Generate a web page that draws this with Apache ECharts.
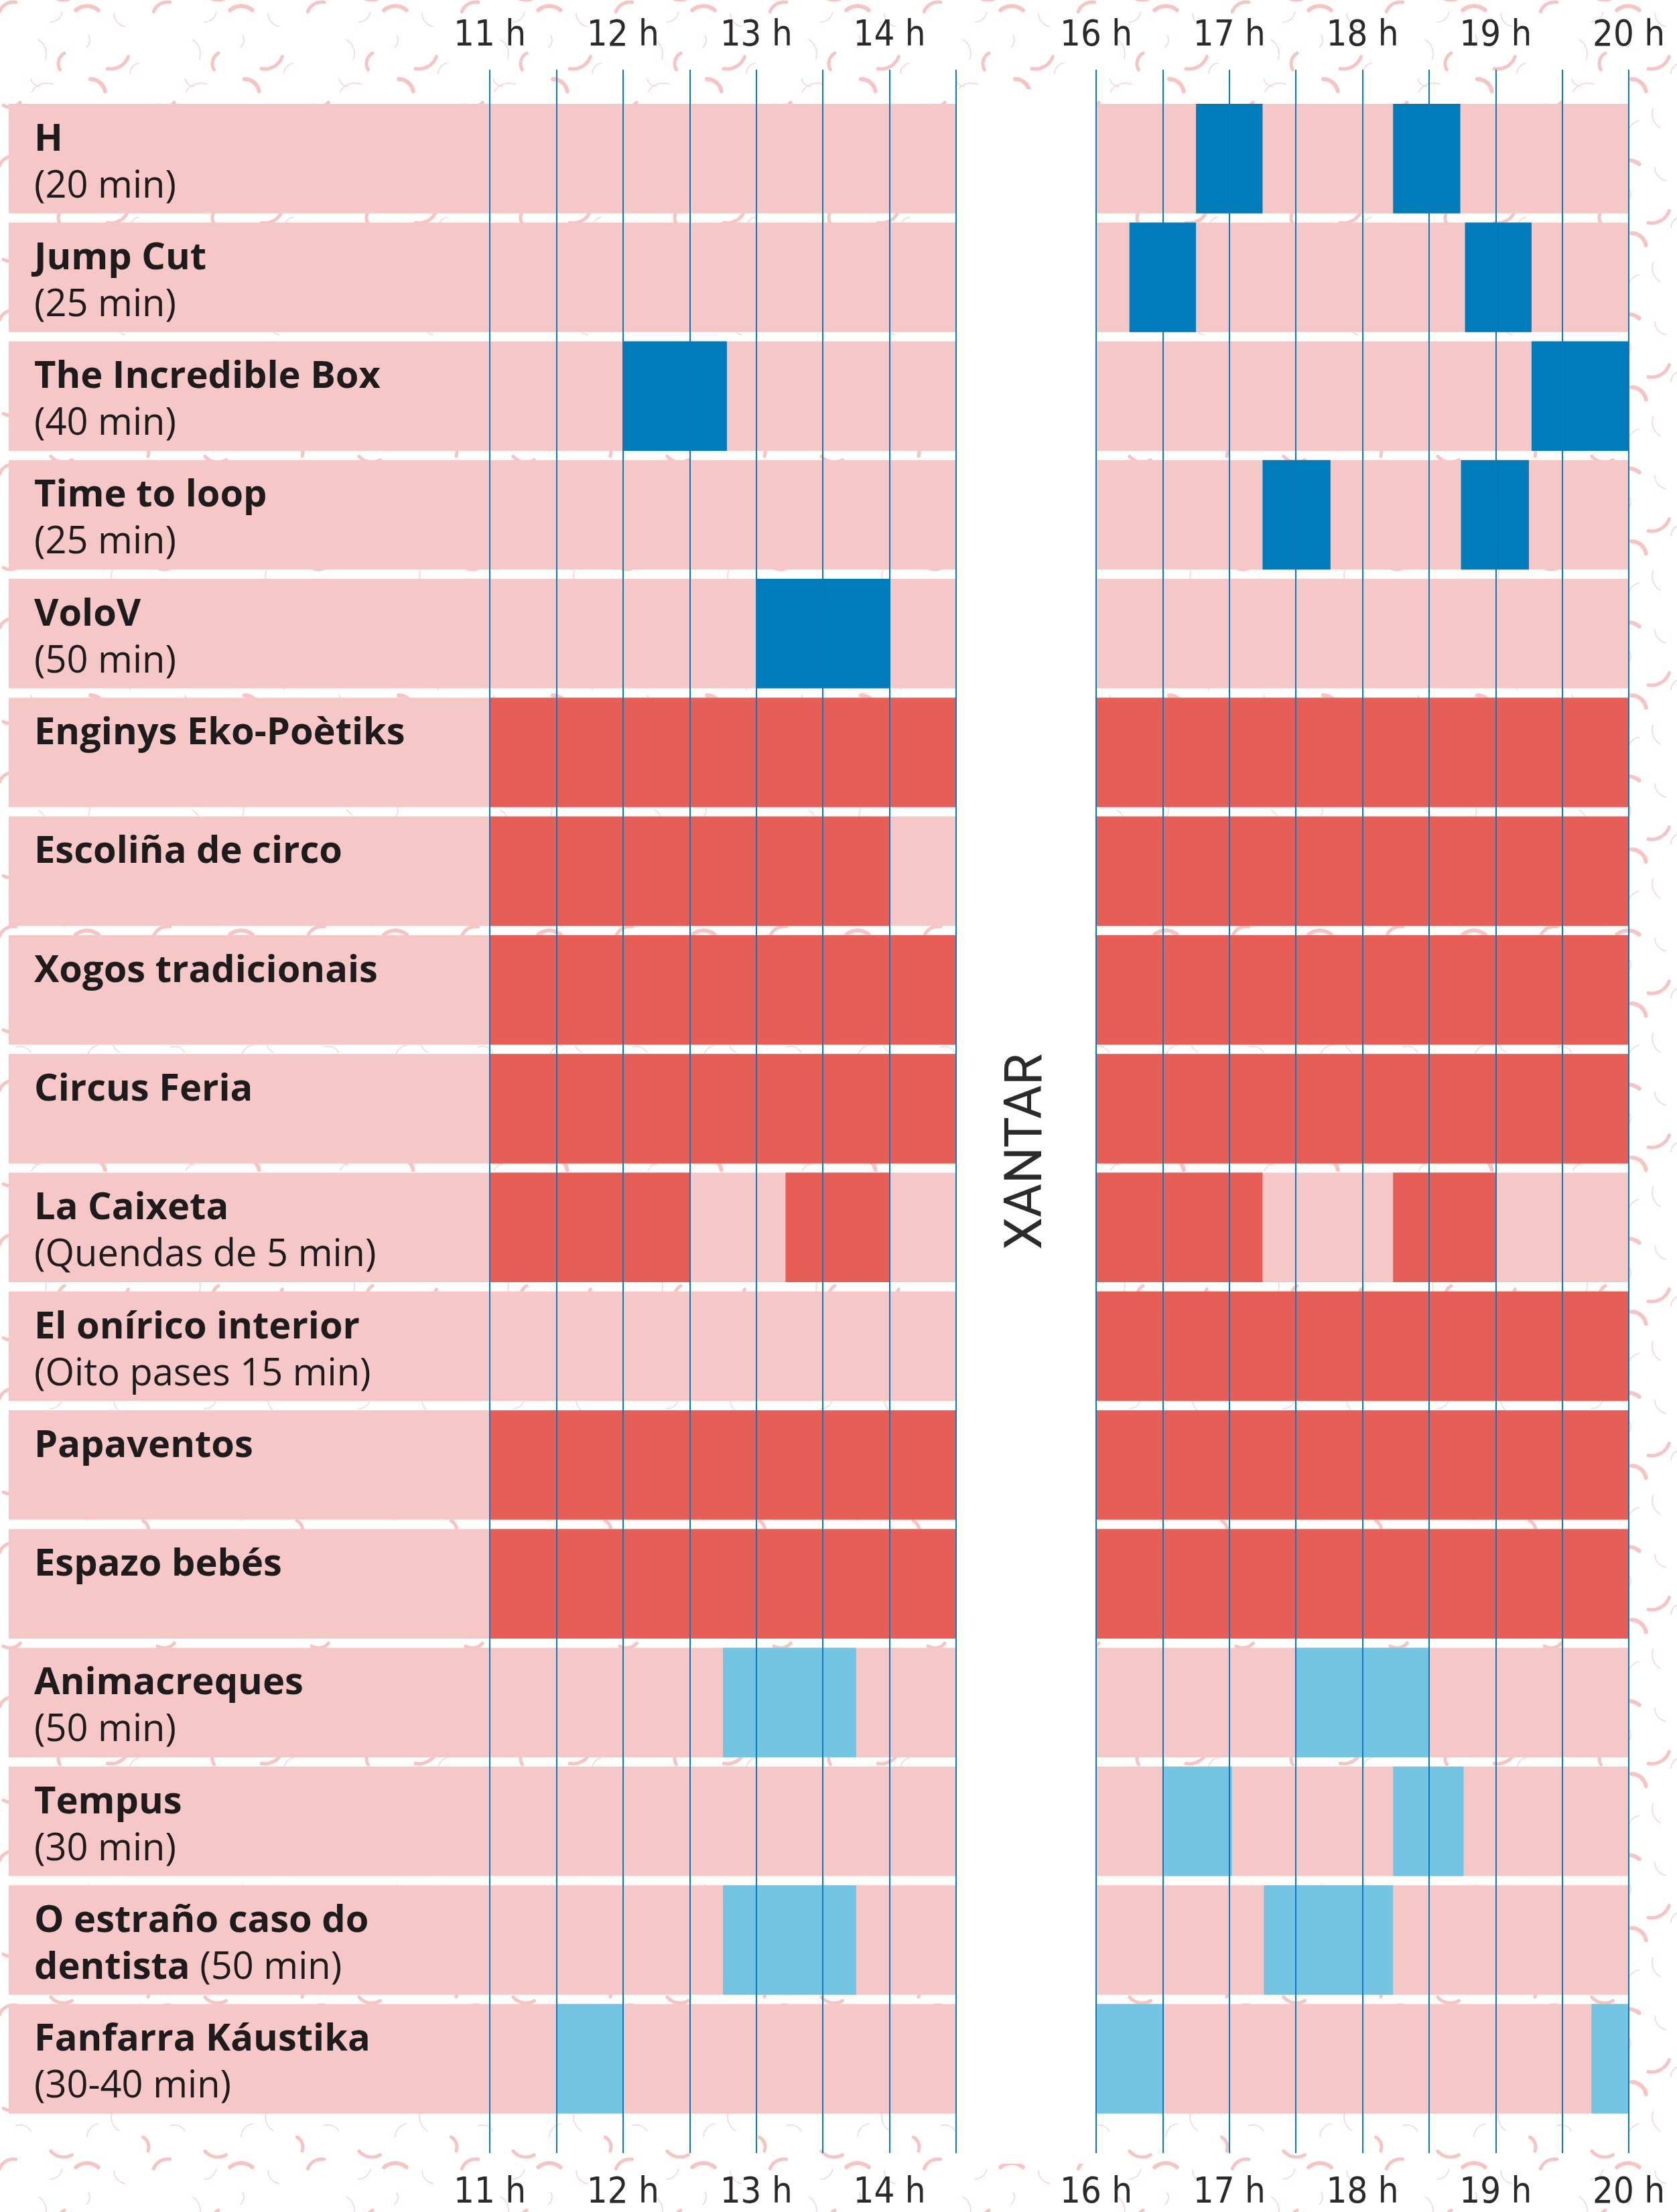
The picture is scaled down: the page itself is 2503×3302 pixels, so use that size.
<!DOCTYPE html>
<html>
<head>
<meta charset="utf-8">
<script src="https://cdn.jsdelivr.net/npm/echarts@6/dist/echarts.min.js"></script>
<style>
  html, body { margin: 0; padding: 0; background: #fff; }
  #chart { width: 2503px; height: 3302px; }
</style>
</head>
<body>
<div id="chart"></div>
<script>
// rows, top to bottom
const rowTitles = [
  'H', 'Jump Cut', 'The Incredible Box', 'Time to loop', 'VoloV',
  'Enginys Eko-Poètiks', 'Escoliña de circo', 'Xogos tradicionais', 'Circus Feria',
  'La Caixeta', 'El onírico interior', 'Papaventos', 'Espazo bebés',
  'Animacreques', 'Tempus', 'O estraño caso do\ndentista', 'Fanfarra Káustika'
]
const rowNotes = [
  '(20 min)', '(25 min)', '(40 min)', '(25 min)', '(50 min)',
  '', '', '', '',
  '(Quendas de 5 min)', '(Oito pases 15 min)', '', '',
  '(50 min)', '(30 min)', '(50 min)', '(30-40 min)'
]

// axis ranges (hours)
const morningHours = [11, 14.5]
const eveningHours = [16, 20]

// [row, start hour, end hour]
const shows = [
  [0, 16.75, 17.25], [0, 18.23, 18.735],
  [1, 16.25, 16.75], [1, 18.77, 19.27],
  [2, 12, 12.78], [2, 19.27, 20],
  [3, 17.25, 17.76], [3, 18.74, 19.25],
  [4, 13, 14]
]
const workshops = [
  [5, 11, 14.5], [5, 16, 20],
  [6, 11, 14], [6, 16, 20],
  [7, 11, 14.5], [7, 16, 20],
  [8, 11, 14.5], [8, 16, 20],
  [9, 11, 12.5], [9, 13.22, 14], [9, 16, 17.25], [9, 18.23, 19],
  [10, 16, 20],
  [11, 11, 14.5], [11, 16, 20],
  [12, 11, 14.5], [12, 16, 20]
]
const streetActs = [
  [13, 12.75, 13.75], [13, 17.5, 18.5],
  [14, 16.5, 17.02], [14, 18.23, 18.76],
  [15, 12.75, 13.75], [15, 17.26, 18.23],
  [16, 11.5, 12], [16, 16, 16.5], [16, 19.72, 20]
]

// background squiggles for the paper texture: [x, y, r, startDeg, endDeg, width]
const squiggles = [
  [20, 25, 22, 200, 280, 5], [75, 15, 18, 10, 90, 1.5], [130, 35, 26, 230, 310, 6],
  [190, 20, 20, 100, 180, 1.5], [45, 80, 24, 300, 380, 1.5], [105, 95, 18, 150, 240, 5],
  [165, 75, 28, 20, 100, 5], [210, 110, 16, 180, 260, 1.5], [15, 140, 20, 40, 120, 5],
  [70, 150, 26, 210, 290, 1.5], [135, 140, 22, 270, 350, 6], [190, 170, 24, 120, 200, 1.5],
  [30, 200, 18, 250, 330, 1.5], [95, 205, 25, 60, 140, 5], [150, 200, 20, 180, 260, 1.5],
  [205, 215, 17, 300, 380, 5], [60, 115, 14, 90, 170, 1.5], [120, 60, 14, 330, 410, 1.5]
]

const PINK = '#F5C7C6', RED = '#E65E55', BLUE = '#007CBB', SKY = '#74C5E3', LINE = '#0B79BC'
const TEXT = '#1D1B1C'
const LABEL_PAD = 718          // pink band runs this far left of 11 h
const BAND_FILL = 0.922        // row height / row pitch
const tickFont = "'Liberation Sans Narrow', 'DejaVu Sans Condensed', sans-serif"

function makeTile() {
  const size = 230
  const c = document.createElement('canvas')
  c.width = c.height = size
  const ctx = c.getContext('2d')
  ctx.lineCap = 'round'
  squiggles.forEach(([x, y, r, a0, a1, w]) => {
    for (const dx of [-size, 0, size]) for (const dy of [-size, 0, size]) {
      ctx.beginPath()
      ctx.strokeStyle = w > 3 ? '#F6C4C3' : '#F8D3D3'
      ctx.lineWidth = w
      ctx.arc(x + dx, y + dy, r, a0 * Math.PI / 180, a1 * Math.PI / 180)
      ctx.stroke()
    }
  })
  return c
}

function rectRender(extendLeft) {
  return function (params, api) {
    const row = api.value(0)
    const p0 = api.coord([api.value(1), row])
    const p1 = api.coord([api.value(2), row])
    const h = api.size([0, 1])[1] * BAND_FILL
    return {
      type: 'rect',
      shape: { x: p0[0] - extendLeft, y: p0[1] - h / 2, width: p1[0] - p0[0] + extendLeft, height: h },
      style: { fill: api.visual('color') }
    }
  }
}

const isMorning = d => d[2] <= 15

function blockSeries(data, color, morning) {
  return {
    type: 'custom', xAxisIndex: morning ? 0 : 1, yAxisIndex: morning ? 0 : 1, z: 3,
    renderItem: rectRender(0), itemStyle: { color }, encode: { x: [1, 2], y: 0 },
    data: data.filter(d => isMorning(d) === morning)
  }
}

function hourLabel(v) { return Number.isInteger(v) ? v + ' h' : '' }

function labelText(value, index) {
  const parts = rowTitles[index].split('\n')
  const note = rowNotes[index]
  if (parts.length > 1) return '{t|' + parts[0] + '}\n{t|' + parts[1] + '}{n| ' + note + '}'
  return '{t|' + parts[0] + '}\n{n|' + (note || ' ') + '}'
}

const gridMorning = { left: 731, width: 696 }
const gridEvening = { left: 1636, width: 795 }
const dataBand = { top: 148, height: 3014 }
const lineBand = { top: 104, height: 3110 }

function lineAxes(gridIndex, range) {
  const base = {
    gridIndex, type: 'value', min: range[0], max: range[1], interval: 0.5, z: 6,
    axisLine: { show: false }, axisTick: { show: false },
    axisLabel: { formatter: hourLabel, fontFamily: tickFont, fontSize: 54, color: '#2A2A2A' }
  }
  return [
    { ...base, position: 'top', axisLabel: { ...base.axisLabel, margin: 23 },
      splitLine: { show: true, lineStyle: { color: LINE, width: 2 } } },
    { ...base, position: 'bottom', axisLabel: { ...base.axisLabel, margin: 33 },
      splitLine: { show: false } }
  ]
}

const chart = echarts.init(document.getElementById('chart'))
chart.setOption({
  backgroundColor: '#fff',
  animation: false,
  grid: [
    { ...gridMorning, ...dataBand, outerBoundsMode: 'none' },
    { ...gridEvening, ...dataBand, outerBoundsMode: 'none' },
    { ...gridMorning, ...lineBand, outerBoundsMode: 'none' },
    { ...gridEvening, ...lineBand, outerBoundsMode: 'none' }
  ],
  xAxis: [
    { gridIndex: 0, type: 'value', min: morningHours[0], max: morningHours[1], show: false },
    { gridIndex: 1, type: 'value', min: eveningHours[0], max: eveningHours[1], show: false },
    ...lineAxes(2, morningHours),
    ...lineAxes(3, eveningHours)
  ],
  yAxis: [
    {
      gridIndex: 0, type: 'category', data: rowTitles, inverse: true, z: 5,
      axisLine: { show: false }, axisTick: { show: false }, splitLine: { show: false },
      axisLabel: {
        interval: 0, align: 'left', margin: 680, formatter: labelText, padding: [14, 0, 0, 0],
        rich: {
          t: { fontFamily: 'Open Sans', fontWeight: 'bold', fontSize: 56, lineHeight: 70, color: TEXT },
          n: { fontFamily: 'Open Sans', fontWeight: 'normal', fontSize: 56, lineHeight: 70, color: TEXT }
        }
      }
    },
    { gridIndex: 1, type: 'category', data: rowTitles, inverse: true, show: false },
    { gridIndex: 2, type: 'value', show: false },
    { gridIndex: 3, type: 'value', show: false }
  ],
  series: [
    {
      type: 'custom', xAxisIndex: 0, yAxisIndex: 0, z: 1, renderItem: rectRender(LABEL_PAD),
      itemStyle: { color: PINK }, encode: { x: [1, 2], y: 0 },
      data: rowTitles.map((t, i) => [i, morningHours[0], morningHours[1]])
    },
    {
      type: 'custom', xAxisIndex: 1, yAxisIndex: 1, z: 1, renderItem: rectRender(0),
      itemStyle: { color: PINK }, encode: { x: [1, 2], y: 0 },
      data: rowTitles.map((t, i) => [i, eveningHours[0], eveningHours[1]])
    },
    blockSeries(shows, BLUE, true), blockSeries(shows, BLUE, false),
    blockSeries(workshops, RED, true), blockSeries(workshops, RED, false),
    blockSeries(streetActs, SKY, true), blockSeries(streetActs, SKY, false)
  ],
  graphic: {
    elements: [
      { type: 'rect', silent: true, z: -20, shape: { x: 0, y: 0, width: 2503, height: 3302 },
        style: { fill: { image: makeTile(), repeat: 'repeat' } } },
      { type: 'rect', silent: true, z: -19, shape: { x: 1427, y: 133, width: 209, height: 3097 },
        style: { fill: '#fff' } },
      { type: 'text', z: 10, x: 1535, y: 1719, rotation: Math.PI / 2,
        style: { text: 'XANTAR', fontFamily: 'Roboto', fontSize: 77, fill: '#2B2B2B', align: 'center', verticalAlign: 'middle' } }
    ]
  }
})
</script>
</body>
</html>
